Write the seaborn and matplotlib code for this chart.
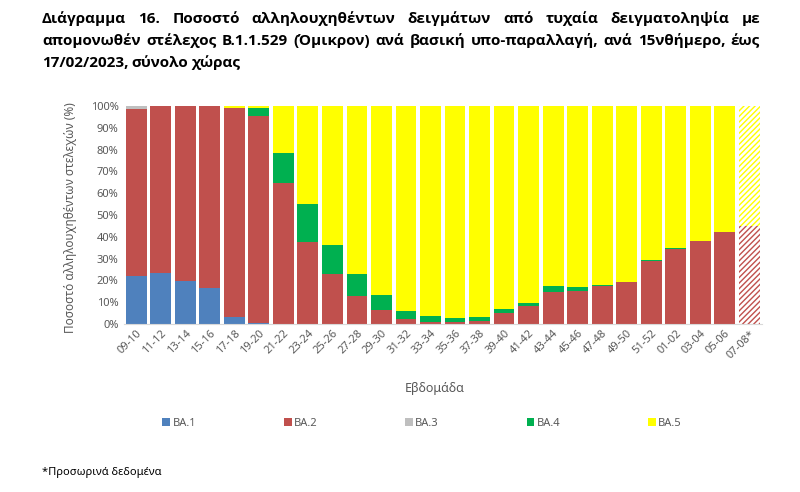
import numpy as np
import matplotlib
matplotlib.use("Agg")
import matplotlib.pyplot as plt
from matplotlib.patches import Patch
import seaborn as sns

# --- Data (percent of sequenced samples per fortnight) ---
weeks = ["09-10", "11-12", "13-14", "15-16", "17-18", "19-20", "21-22", "23-24",
         "25-26", "27-28", "29-30", "31-32", "33-34", "35-36", "37-38", "39-40",
         "41-42", "43-44", "45-46", "47-48", "49-50", "51-52", "01-02", "03-04",
         "05-06", "07-08*"]
ba1 = [22.2, 23.6, 19.8, 16.5, 3.1, 0.5, 0, 0, 0, 0, 0, 0, 0, 0, 0, 0,
       0, 0, 0, 0, 0, 0, 0, 0, 0, 0]
ba2 = [76.3, 76.4, 80.2, 83.5, 96.1, 94.9, 64.6, 37.5, 23.0, 12.7, 6.4, 2.1,
       0.8, 0.8, 1.4, 5.2, 8.3, 14.6, 15.2, 17.6, 19.1, 28.8, 34.6, 38.0, 42.0, 44.9]
ba3 = [1.5, 0, 0, 0, 0, 0, 0, 0, 0, 0, 0, 0, 0, 0, 0, 0,
       0, 0, 0, 0, 0, 0, 0, 0, 0, 0]
ba4 = [0, 0, 0, 0, 0, 3.5, 14.0, 17.5, 13.1, 10.3, 6.9, 4.0, 2.9, 2.0, 1.7, 1.5,
       1.5, 2.7, 2.0, 0.5, 0.3, 0.6, 0.2, 0.1, 0.1, 0]
ba5 = [0, 0, 0, 0, 0.8, 1.1, 21.4, 45.0, 63.9, 77.0, 86.7, 93.9, 96.3, 97.2,
       96.9, 93.3, 90.2, 82.7, 82.8, 81.9, 80.6, 70.6, 65.2, 61.9, 57.9, 55.1]

names = ["BA.1", "BA.2", "BA.3", "BA.4", "BA.5"]
colors = ["#4F81BD", "#C0504D", "#BFBFBF", "#00B050", "#FFFF00"]
series = [ba1, ba2, ba3, ba4, ba5]

TITLE = ["Διάγραμμα 16. Ποσοστό αλληλουχηθέντων δειγμάτων από τυχαία δειγματοληψία με",
         "απομονωθέν στέλεχος B.1.1.529 (Όμικρον) ανά βασική υπο-παραλλαγή, ανά 15νθήμερο, έως",
         "17/02/2023, σύνολο χώρας"]

sns.set_theme(style="white")
plt.rcParams['font.family'] = ['Noto Sans', 'DejaVu Sans']
GREY = "#595959"

W, H = 800, 492
fig = plt.figure(figsize=(W / 100, H / 100), dpi=100)
ax = fig.add_axes([124 / W, 1 - 324 / H, (761.5 - 124) / W, (324 - 106) / H])

# stacked bars: draw cumulative totals from top layer down so each covers the next
cum = np.cumsum(np.array(series), axis=0)
last = len(weeks) - 1
for i in range(len(series) - 1, -1, -1):
    n0 = len(ax.patches)
    sns.barplot(x=weeks, y=cum[i], color=colors[i], saturation=1, width=0.85,
                linewidth=0, ax=ax)
    # provisional last fortnight -> hatched
    bar = ax.patches[n0 + last]
    bar.set_facecolor("white")
    bar.set_edgecolor(colors[i])
    bar.set_hatch("//////")
    bar.set_linewidth(0)

ax.set_xlim(-0.5, len(weeks) - 0.5)
ax.set_ylim(0, 100)
ax.set_yticks(range(0, 101, 10))
ax.set_yticklabels([f"{v}%" for v in range(0, 101, 10)])
ax.tick_params(axis="y", labelsize=8, colors=GREY, length=0, pad=4)
ax.tick_params(axis="x", labelsize=8, colors=GREY, length=0, pad=3)
plt.setp(ax.get_xticklabels(), rotation=45, ha="right", rotation_mode="anchor")
for s in ["top", "right", "left"]:
    ax.spines[s].set_visible(False)
ax.spines["bottom"].set_color("#D9D9D9")
ax.spines["bottom"].set_linewidth(0.8)

ax.set_xlabel("Εβδομάδα", fontsize=9, color=GREY)
ax.xaxis.set_label_coords((435 - 124) / 637.5, (324 - 382) / 218)
ax.set_ylabel("Ποσοστό αλληλουχηθέντων στελεχών (%)", fontsize=8.5, color=GREY)
ax.yaxis.set_label_coords((77 - 124) / 637.5, (324 - 218) / 218)

handles = [Patch(facecolor=c, edgecolor="none", label=n) for n, c in zip(names, colors)]
fig.legend(handles=handles, loc="center", ncol=5, frameon=False,
           bbox_to_anchor=(422 / W, 1 - 423 / H), fontsize=8,
           handlelength=0.7, handleheight=0.7, handletextpad=0.2,
           columnspacing=7.9, labelcolor=GREY)

# justified title (first two lines), last line left-aligned
renderer = fig.canvas.get_renderer()
x0, x1 = 42, 760
for k, (line, yc) in enumerate(zip(TITLE, [19, 41, 63])):
    words = line.split(" ")
    texts = [fig.text(0, 1 - yc / H, w, fontsize=11, fontweight="bold",
                      family=["Open Sans", "DejaVu Sans"],
                      va="center", ha="left", color="black") for w in words]
    widths = [t.get_window_extent(renderer).width for t in texts]
    if k < 2:
        gap = (x1 - x0 - sum(widths)) / (len(words) - 1)
    else:
        gap = texts[0].get_fontsize() * 0.3
    x = x0
    for t, w in zip(texts, widths):
        t.set_x(x / W)
        x += w + gap

fig.text(42 / W, 1 - 472 / H, "*Προσωρινά δεδομένα", fontsize=8, va="center",
         ha="left", color="black")

fig.savefig("out.png", dpi=100)
